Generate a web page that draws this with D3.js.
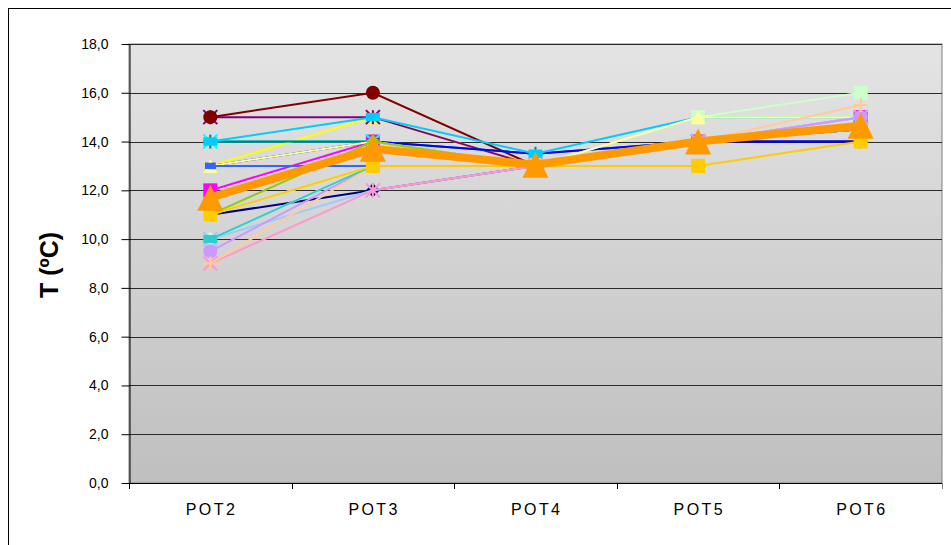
<!DOCTYPE html>
<html>
  <head>
    <meta charset="UTF-8">
    <title>T per POT</title>
    <style>
      body {margin: 0; background: #fff}
      svg {display: block; font-family: "Liberation Sans", Arial, sans-serif}
      .y-axis text {font-size: 14px}
      .x-label {font-size: 16px; letter-spacing: 2.4px; text-anchor: middle}
      .title {font-size: 25px; font-weight: bold; text-anchor: middle}
    </style>
  </head>
  <body>
    <div id="chart"></div>
    <script src="https://d3js.org/d3.v7.min.js"></script>
    <script>

const categories = ["POT2", "POT3", "POT4", "POT5", "POT6"];
const yTicks = [0, 2, 4, 6, 8, 10, 12, 14, 16, 18];

const seriesValues = [
  [11, 12, 13, 14, 14],
  [12, 14, 13, 14, 15],
  [13, 15, 13, 14, 14.5],
  [14, 14, 13, 14, 15],
  [15, 15, 13, 14, 14.5],
  [15, 16, 13, 14, 14.5],
  [14, 14, 13.5, 14, 14.5],
  [13, 14, 13.5, 14, 14],
  [14, 15, 13.5, 15, 15],
  [10, 13, 13, 14, 15],
  [11, 13, 13, 15, 16],
  [13, 14, 13, 15, 15],
  [10, 12, 13, 14, 14.5],
  [9, 12, 13, 14, 15],
  [9.5, 13, 13, 14, 15],
  [9, 13, 13, 14, 15.5],
  [13, 13, 13, 14, 14.5],
  [10, 13, 13, 14, 14.5],
  [11, 14, 13, 14, 14.5],
  [11, 13, 13, 13, 14]
];
const averageValues = [11.7, 13.7, 13.05, 14.0, 14.65];

const seriesColors = ["#000080", "#ff00ff", "#ffff00", "#00ffff", "#800080", "#800000", "#008080", "#0000ff",
  "#00ccff", "#ccffff", "#ccffcc", "#ffff99", "#99ccff", "#ff99cc", "#cc99ff", "#ffcc99",
  "#3366ff", "#33cccc", "#99cc00", "#ffcc00"];
const markerCycle = ["diamond", "square", "triangle", "x", "star", "circle", "plus", "dash", "longdash"];

const width = 951, height = 545;
const svg = d3.select("#chart").append("svg").attr("width", width).attr("height", height);

const x = d3.scaleBand().domain(categories).range([129, 942]);
const y = d3.scaleLinear().domain([0, 18]).range([483, 44]);
const cx = c => x(c) + x.bandwidth() / 2;

// outer chart border
svg.append("rect").attr("x", 8.5).attr("y", 8.5).attr("width", 1000).attr("height", 1000)
  .attr("fill", "#fff").attr("stroke", "#000");

const grad = svg.append("defs").append("linearGradient").attr("id", "bg")
  .attr("x1", 0).attr("y1", 0).attr("x2", 0).attr("y2", 1);
grad.append("stop").attr("offset", "0%").attr("stop-color", "#e4e4e4");
grad.append("stop").attr("offset", "100%").attr("stop-color", "#bfbfbf");

svg.append("rect")
  .attr("x", x.range()[0]).attr("y", y(18))
  .attr("width", x.range()[1] - x.range()[0]).attr("height", y(0) - y(18))
  .attr("fill", "url(#bg)").attr("stroke", "#808080");

// right edge tick of plot frame
svg.append("line").attr("x1", x.range()[1] + 0.5).attr("x2", x.range()[1] + 0.5)
  .attr("y1", y(0)).attr("y2", y(0) + 6).attr("stroke", "#808080");

// gridlines
svg.append("g").selectAll("line").data(yTicks.filter(d => d > 0)).join("line")
  .attr("x1", x.range()[0]).attr("x2", x.range()[1])
  .attr("y1", d => Math.round(y(d)) + 0.5).attr("y2", d => Math.round(y(d)) + 0.5)
  .attr("stroke", "#2b2b2b");

const yAxis = d3.axisLeft(y).tickValues(yTicks).tickSize(8).tickSizeOuter(0).tickPadding(13)
  .tickFormat(d => d3.format(".1f")(d).replace(".", ","));
svg.append("g").attr("class", "y-axis").attr("transform", "translate(129.5,0)").call(yAxis)
  .call(g => g.selectAll("line, path").attr("stroke", "#000"));

// x axis line and boundary ticks
svg.append("line").attr("x1", x.range()[0]).attr("x2", x.range()[1])
  .attr("y1", y(0) + 0.5).attr("y2", y(0) + 0.5).attr("stroke", "#000");
svg.append("g").selectAll("line").data(categories).join("line")
  .attr("x1", d => Math.round(x(d)) + 0.5).attr("x2", d => Math.round(x(d)) + 0.5)
  .attr("y1", y(0)).attr("y2", y(0) + 6).attr("stroke", "#000");

svg.append("g").selectAll("text").data(categories).join("text")
  .attr("class", "x-label")
  .attr("x", d => cx(d) + 1.2).attr("y", 515)
  .text(d => d);

svg.append("text").attr("class", "title")
  .attr("transform", "translate(58,265) rotate(-90)")
  .text("T (ºC)");

function marker(g, type, color, s) {
  const h = s / 2;
  if (type === "circle") {
    g.append("circle").attr("r", h).attr("fill", color);
  } else if (type === "square") {
    g.append("rect").attr("x", -h).attr("y", -h).attr("width", s).attr("height", s).attr("fill", color);
  } else if (type === "triangle") {
    g.append("path").attr("d", `M0,${-h}L${h},${h}L${-h},${h}Z`).attr("fill", color);
  } else if (type === "diamond") {
    g.append("path").attr("d", `M0,${-h}L${h},0L0,${h}L${-h},0Z`).attr("fill", color);
  } else if (type === "dash") {
    g.append("rect").attr("x", -h * 0.75).attr("y", -h * 0.45).attr("width", s * 0.75).attr("height", s * 0.45).attr("fill", color);
  } else if (type === "longdash") {
    g.append("rect").attr("x", -h).attr("y", -h * 0.6).attr("width", s).attr("height", s * 0.6).attr("fill", color);
  } else {
    const segs = [];
    if (type === "x" || type === "star") segs.push([-h, -h, h, h], [-h, h, h, -h]);
    if (type === "star") segs.push([0, -h, 0, h]);
    if (type === "plus") segs.push([-h, 0, h, 0], [0, -h, 0, h]);
    segs.forEach(p => g.append("line").attr("x1", p[0]).attr("y1", p[1]).attr("x2", p[2]).attr("y2", p[3])
      .attr("stroke", color).attr("stroke-width", 2));
  }
}

const line = d3.line().x((d, i) => cx(categories[i])).y(d => y(d));

function drawSeries(values, color, type, lw, ms) {
  const g = svg.append("g");
  g.append("path").attr("d", line(values)).attr("fill", "none")
    .attr("stroke", color).attr("stroke-width", lw);
  values.forEach((v, i) => {
    const m = g.append("g").attr("transform", `translate(${cx(categories[i])},${y(v)})`);
    marker(m, type, color, ms);
  });
}

seriesValues.forEach((vals, i) => drawSeries(vals, seriesColors[i], markerCycle[i % markerCycle.length], 2, 14));
drawSeries(averageValues, "#ff9900", "triangle", 8, 26);

    </script>
  </body>
</html>
